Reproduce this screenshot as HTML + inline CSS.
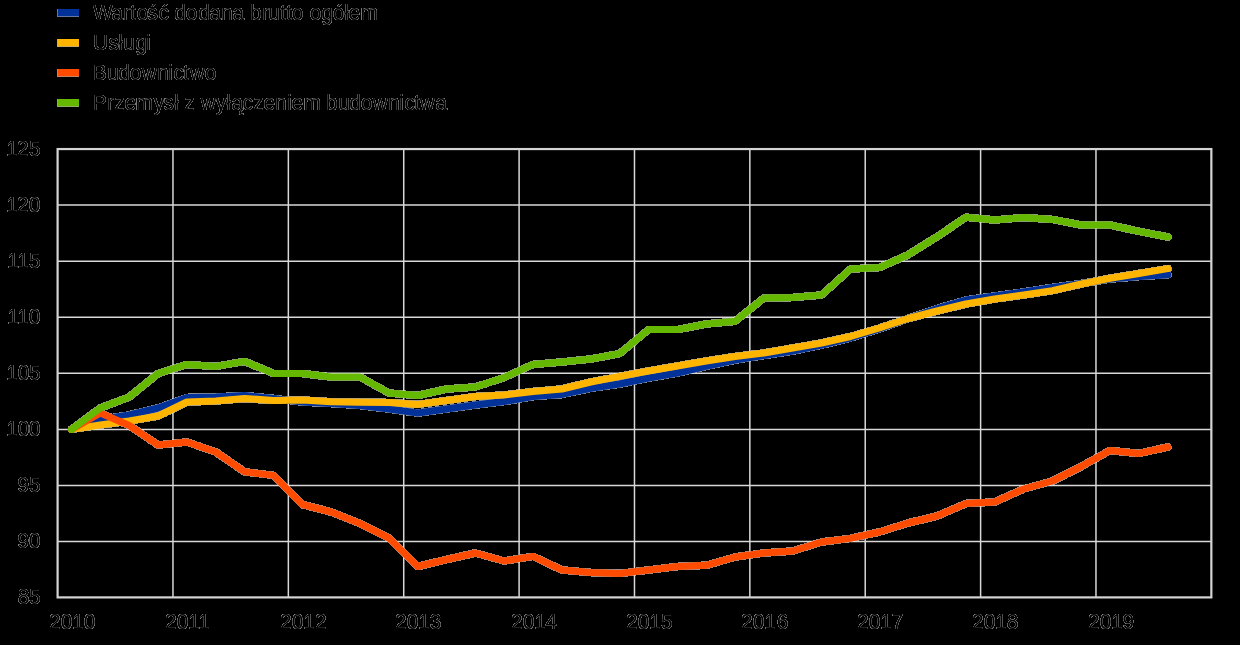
<!DOCTYPE html>
<html><head><meta charset="utf-8"><style>
html,body{margin:0;padding:0;background:#000;}
svg{display:block;}
text{font-family:"Liberation Sans",sans-serif;font-size:20.9px;}
</style></head><body>
<svg width="1240" height="645" viewBox="0 0 1240 645">
<defs>
<filter id="fr" x="0" y="0" width="1240" height="645" filterUnits="userSpaceOnUse" color-interpolation-filters="sRGB">
<feColorMatrix in="SourceGraphic" type="matrix" values="0 0 0 0 1  0 0 0 0 1  0 0 0 0 1  0 0 0 1 0"/>
<feComponentTransfer>
<feFuncA type="table" tableValues="0 0.492 0.484 0.477 0.469 0.461 0.453 0.445 0.438 0.43 0.422 0.414 0.406 0.398 0.391 0.383 0.375 0.367 0.359 0.352 0.344 0.336 0.328 0.32 0.312 0.305 0.297 0.289 0.281 0.273 0.266 0.258 0.25 0.242 0.234 0.227 0.219 0.211 0.203 0.195 0.188 0.18 0.172 0.164 0.156 0.148 0.141 0.133 0.125 0.117 0.109 0.102 0.094 0.086 0.078 0.07 0.062 0.055 0.047 0.039 0.031 0.023 0.016 0.008 0"/>
</feComponentTransfer>
</filter>
<filter id="fe" x="0" y="0" width="1240" height="645" filterUnits="userSpaceOnUse" color-interpolation-filters="sRGB">
<feColorMatrix in="SourceGraphic" type="matrix" values="0 0 0 0 1  0 0 0 0 1  0 0 0 0 1  0 0 0 1 0"/>
<feComponentTransfer>
<feFuncA type="discrete" tableValues="0 0.6 0.6 0.6 0.6 0.6 0.6 0.6 0.6 0.6 0.6 0.6 0.6 0.6 0.6 0.6 0.6 0.6 0.6 0.6 0.6 0.6 0.6 0.6 0.6 0.6 0.6 0.6 0.6 0.6 0.6 0.6 0.6 0.6 0.6 0.6 0.6 0.6 0.6 0.6 0.6 0.6 0.6 0.6 0.6 0.6 0.6 0.6 0.6 0.6 0.6 0.6 0.6 0.6 0.6 0.6 0.6 0.6 0.6 0.6 0.6 0.6 0.6 0.6"/>
</feComponentTransfer>
</filter>
</defs>
<rect width="1240" height="645" fill="#000"/>
<g stroke="#d8d8d8" stroke-width="1.5" fill="none">
<line x1="172.97" y1="149.05" x2="172.97" y2="597.40"/>
<line x1="288.35" y1="149.05" x2="288.35" y2="597.40"/>
<line x1="403.73" y1="149.05" x2="403.73" y2="597.40"/>
<line x1="519.10" y1="149.05" x2="519.10" y2="597.40"/>
<line x1="634.48" y1="149.05" x2="634.48" y2="597.40"/>
<line x1="749.85" y1="149.05" x2="749.85" y2="597.40"/>
<line x1="865.23" y1="149.05" x2="865.23" y2="597.40"/>
<line x1="980.60" y1="149.05" x2="980.60" y2="597.40"/>
<line x1="1095.97" y1="149.05" x2="1095.97" y2="597.40"/>
<line x1="57.60" y1="205.10" x2="1211.35" y2="205.10"/>
<line x1="57.60" y1="261.20" x2="1211.35" y2="261.20"/>
<line x1="57.60" y1="317.20" x2="1211.35" y2="317.20"/>
<line x1="57.60" y1="373.20" x2="1211.35" y2="373.20"/>
<line x1="57.60" y1="429.40" x2="1211.35" y2="429.40"/>
<line x1="57.60" y1="485.60" x2="1211.35" y2="485.60"/>
<line x1="57.60" y1="541.50" x2="1211.35" y2="541.50"/>
</g>
<rect x="57.60" y="149.05" width="1153.75" height="448.35" fill="none" stroke="#d4d4d4" stroke-width="2.2"/>
<use href="#ln" filter="url(#fe)"/>
<g id="ln" fill="none" stroke-width="7" stroke-linejoin="round" stroke-linecap="round">
<polyline stroke="#003299" points="71.5,429.4 100.3,419.5 129.2,415.0 158.1,408.0 186.9,397.5 215.8,397.0 244.6,395.5 273.5,398.5 302.3,402.0 331.2,403.5 360.0,405.5 388.9,409.0 417.7,413.0 446.6,409.0 475.4,405.0 504.2,401.5 533.1,396.5 562.0,394.4 590.8,388.4 619.6,384.0 648.5,378.0 677.4,373.0 706.2,366.3 735.1,360.0 763.9,355.5 792.8,351.0 821.6,345.0 850.5,338.0 879.3,329.0 908.2,318.5 937.0,308.5 965.9,300.0 994.7,296.0 1023.6,292.0 1052.4,287.5 1081.2,283.5 1110.1,279.0 1139.0,276.5 1167.8,274.8"/>
<polyline stroke="#FFB400" points="71.5,429.4 100.3,425.0 129.2,421.0 158.1,416.0 186.9,402.0 215.8,401.0 244.6,398.5 273.5,400.4 302.3,400.0 331.2,401.7 360.0,402.3 388.9,402.5 417.7,404.4 446.6,400.5 475.4,396.5 504.2,395.0 533.1,391.5 562.0,389.0 590.8,382.0 619.6,376.4 648.5,371.0 677.4,366.0 706.2,361.0 735.1,356.5 763.9,353.0 792.8,348.0 821.6,343.0 850.5,336.5 879.3,328.0 908.2,318.5 937.0,311.0 965.9,304.0 994.7,299.0 1023.6,295.0 1052.4,290.6 1081.2,284.0 1110.1,278.2 1139.0,273.5 1167.8,268.6"/>
<polyline stroke="#FF4B00" points="71.5,429.4 100.3,413.0 129.2,425.5 158.1,445.0 186.9,442.0 215.8,452.0 244.6,471.8 273.5,475.4 302.3,504.5 331.2,512.0 360.0,523.5 388.9,538.0 417.7,566.5 446.6,559.5 475.4,553.0 504.2,561.0 533.1,556.4 562.0,570.0 590.8,572.4 619.6,573.4 648.5,570.0 677.4,566.6 706.2,565.3 735.1,557.0 763.9,553.0 792.8,551.0 821.6,542.0 850.5,538.4 879.3,532.0 908.2,523.0 937.0,516.0 965.9,503.6 994.7,502.0 1023.6,489.0 1052.4,481.0 1081.2,466.5 1110.1,450.4 1139.0,453.4 1167.8,447.0"/>
<polyline stroke="#65B800" points="71.5,429.4 100.3,408.0 129.2,397.0 158.1,373.5 186.9,364.4 215.8,366.4 244.6,361.4 273.5,373.4 302.3,373.5 331.2,377.0 360.0,377.0 388.9,393.0 417.7,395.5 446.6,389.0 475.4,387.0 504.2,377.5 533.1,364.4 562.0,362.0 590.8,359.0 619.6,353.6 648.5,329.6 677.4,329.6 706.2,324.0 735.1,321.3 763.9,298.0 792.8,297.6 821.6,295.0 850.5,269.0 879.3,267.6 908.2,254.7 937.0,236.8 965.9,217.2 994.7,220.0 1023.6,217.5 1052.4,219.4 1081.2,225.0 1110.1,225.0 1139.0,231.4 1167.8,237.0"/>
</g>
<rect x="58" y="9" width="21" height="7" fill="#003299"/>
<rect x="57" y="9" width="1" height="8" fill="#6478a2"/>
<rect x="57" y="16" width="22" height="1" fill="#6478a2"/>
<rect x="58" y="39" width="21" height="7" fill="#FFB400"/>
<rect x="57" y="39" width="1" height="8" fill="#caac64"/>
<rect x="57" y="46" width="22" height="1" fill="#caac64"/>
<rect x="58" y="69" width="21" height="7" fill="#FF4B00"/>
<rect x="57" y="69" width="1" height="8" fill="#ca8264"/>
<rect x="57" y="76" width="22" height="1" fill="#ca8264"/>
<rect x="58" y="99" width="21" height="7" fill="#65B800"/>
<rect x="57" y="99" width="1" height="8" fill="#8dae64"/>
<rect x="57" y="106" width="22" height="1" fill="#8dae64"/>
<g filter="url(#fr)">
<text x="93.05 111.5 123.05 130.05 136.75 147.5 158.5 168.79 174.25 185.75 198.25 209.5 221.05 232.5 244.27 250.05 262.05 268.25 280.05 286.05 291.75 303.48 309.75 321.25 332.75 344.25 348.5 360.5" y="0" transform="translate(0,19.50) scale(1,1.07)">Wartość dodana brutto ogółem</text>
<text x="93.05 108.5 118.25 123.25 135.25 146.05" y="0" transform="translate(0,49.50) scale(1,1.07)">Usługi</text>
<text x="92.75 107.25 118.25 129.75 141.75 157.05 168.05 173.5 183.05 189.75 204.75" y="0" transform="translate(0,79.50) scale(1,1.07)">Budownictwo</text>
<text x="92.75 107.05 114.25 124.5 135.5 153.75 163.5 174.25 178.85 184.25 195.09 200.75 215.75 226.25 231.5 242.5 253.25 263.5 275.05 287.05 291.5 303.5 320.42 326.05 338.25 349.25 360.75 372.75 388.05 399.05 404.5 414.05 419.75 435.5" y="0" transform="translate(0,109.50) scale(1,1.07)">Przemysł z wyłączeniem budownictwa</text>
<text x="6.25 17.05 29.05" y="0" transform="translate(0,155.50) scale(1,1.07)">125</text>
<text x="6.25 17.05 28.75" y="0" transform="translate(0,211.50) scale(1,1.07)">120</text>
<text x="7.25 17.25 29.05" y="0" transform="translate(0,267.60) scale(1,1.07)">115</text>
<text x="7.25 17.25 28.75" y="0" transform="translate(0,323.60) scale(1,1.07)">110</text>
<text x="6.25 17.75 29.05" y="0" transform="translate(0,379.60) scale(1,1.07)">105</text>
<text x="6.25 17.75 28.75" y="0" transform="translate(0,435.80) scale(1,1.07)">100</text>
<text x="17.5 29.05" y="0" transform="translate(0,492.00) scale(1,1.07)">95</text>
<text x="17.5 28.75" y="0" transform="translate(0,547.90) scale(1,1.07)">90</text>
<text x="17.75 29.05" y="0" transform="translate(0,603.80) scale(1,1.07)">85</text>
<text x="49.05 60.75 72.25 83.75" y="0" transform="translate(0,628.5) scale(1,1.07)">2010</text>
<text x="165.05 176.75 188.25 198.25" y="0" transform="translate(0,628.5) scale(1,1.07)">2011</text>
<text x="280.05 291.75 303.25 315.05" y="0" transform="translate(0,628.5) scale(1,1.07)">2012</text>
<text x="395.05 406.75 418.25 429.75" y="0" transform="translate(0,628.5) scale(1,1.07)">2013</text>
<text x="511.05 522.75 534.25 545.5" y="0" transform="translate(0,628.5) scale(1,1.07)">2014</text>
<text x="626.05 637.75 649.25 661.05" y="0" transform="translate(0,628.5) scale(1,1.07)">2015</text>
<text x="741.05 752.75 764.25 776.75" y="0" transform="translate(0,628.5) scale(1,1.07)">2016</text>
<text x="857.05 868.75 880.25 891.75" y="0" transform="translate(0,628.5) scale(1,1.07)">2017</text>
<text x="972.05 983.75 995.25 1006.75" y="0" transform="translate(0,628.5) scale(1,1.07)">2018</text>
<text x="1088.05 1099.75 1111.25 1122.5" y="0" transform="translate(0,628.5) scale(1,1.07)">2019</text>
</g>
</svg>
</body></html>
